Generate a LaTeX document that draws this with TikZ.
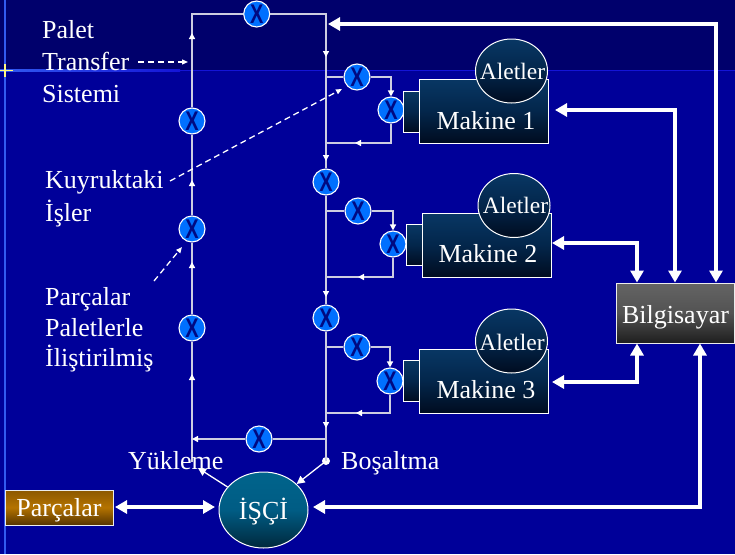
\documentclass[tikz,border=0pt]{standalone}
\usepackage{fontspec}
\usepackage{graphicx}
\setmainfont{Liberation Serif}
\newfontfamily\xvfont{Liberation Sans}
\usetikzlibrary{arrows.meta,shapes.geometric}
\definecolor{bgmain}{RGB}{0,0,153}
\definecolor{bgtop}{RGB}{0,0,108}
\definecolor{hline}{RGB}{20,20,215}
\definecolor{vline}{RGB}{50,90,240}
\definecolor{pipec}{RGB}{205,205,225}
\definecolor{valvec}{RGB}{0,112,255}
\definecolor{xcol}{RGB}{0,10,130}
\definecolor{machtop}{RGB}{8,55,100}
\definecolor{machmid}{RGB}{3,38,75}
\definecolor{machbot}{RGB}{0,12,32}
\definecolor{grtop}{RGB}{100,100,100}
\definecolor{grbot}{RGB}{30,30,30}
\definecolor{istop}{RGB}{0,100,140}
\definecolor{ismid}{RGB}{0,92,132}
\definecolor{isbot}{RGB}{0,40,60}
\definecolor{brtop}{RGB}{140,88,0}
\definecolor{brmid}{RGB}{180,115,0}
\definecolor{brbot}{RGB}{85,52,0}
\tikzset{
  tipS/.tip={Triangle[length=6pt,width=6pt,color=white]},
  tipM/.tip={Triangle[length=8pt,width=8pt]},
  tipD/.tip={Triangle[length=6pt,width=5pt]},
  tipB/.tip={Triangle[length=12pt,width=13pt]},
  pipe/.style={draw=pipec,line width=1.3pt},
  pipearr/.style={pipe,-{tipS}},
  valve/.style={circle,draw=white,line width=1.1pt,fill=valvec,minimum size=26pt,inner sep=0pt,text=xcol,font=\xvfont\bfseries\fontsize{27}{27}\selectfont},
  mach/.style={draw=white,line width=1pt,top color=machtop,bottom color=machbot,middle color=machmid,inner sep=0pt},
  bodybox/.style={mach,rectangle,minimum width=129pt,minimum height=64pt},
  spindle/.style={mach,rectangle,minimum width=16pt,minimum height=41pt},
  tools/.style={mach,ellipse,minimum width=72pt,minimum height=64pt},
  lbl/.style={text=white,font=\fontsize{26}{31}\selectfont,inner sep=0pt,anchor=base west},
  lblc/.style={lbl,anchor=base},
  allbl/.style={lbl,anchor=base,font=\fontsize{23.5}{28}\selectfont},
  big/.style={draw=white,line width=4pt,line join=miter,{tipB}-{tipB}},
  wthin/.style={draw=white,line width=1.3pt,-{tipM}},
  dashptr/.style={draw=white,line width=1.3pt,dash pattern=on 6pt off 4pt,-{tipD}},
}
\newcommand\vx{\scalebox{0.74}[1]{X}}
\begin{document}
\begin{tikzpicture}[x=1pt,y=-1pt]
\useasboundingbox (0,0) rectangle (735,554);
% background
\fill[bgmain] (0,0) rectangle (735,554);
\fill[bgtop] (0,0) rectangle (735,70);
\draw[hline,line width=1.5pt] (0,70.5) -- (735,70.5);
\shade[left color=vline,right color=hline] (0,69.5) rectangle (180,71.5);
\draw[vline,line width=1.6pt] (5,0) -- (5,554);
\draw[yellow!50!white,line width=1.4pt] (0,70.5) -- (13,70.5);
\draw[yellow!50!white,line width=1.2pt] (5,64) -- (5,77);

% valves
\node[valve] (vT) at (256.7,14) {\vx};
\node[valve] (vL1) at (192,121) {\vx};
\node[valve] (vL2) at (192,229) {\vx};
\node[valve] (vL3) at (192,328) {\vx};
\node[valve] (vB) at (259,439) {\vx};
\node[valve] (vR1) at (326,182) {\vx};
\node[valve] (vR2) at (326,318) {\vx};
\node[valve] (m1a) at (357,77) {\vx};
\node[valve] (m1b) at (391,110) {\vx};
\node[valve] (m2a) at (358,211) {\vx};
\node[valve] (m2b) at (393,244) {\vx};
\node[valve] (m3a) at (357,347) {\vx};
\node[valve] (m3b) at (390,381) {\vx};

% loop coordinates
\coordinate (cTL) at (192,14);
\coordinate (cTR) at (326,14);
\coordinate (cLB) at (192,462);
\coordinate (cBR) at (326,439);
\coordinate (cBL) at (192,439);
\coordinate (b1) at (326,77);
\coordinate (r1) at (326,143);
\coordinate (b2) at (326,211);
\coordinate (r2) at (326,277);
\coordinate (b3) at (326,347);
\coordinate (r3) at (326,413);
\fill[white] (326,461) circle (4pt);
\coordinate (dot) at (326,461);

% loop lines
\draw[pipe] (cLB) -- (vL3);
\draw[pipe] (vL3) -- (vL2);
\draw[pipe] (vL2) -- (vL1);
\draw[pipe] (vL1) -- (cTL) -- (vT);
\draw[pipe] (vT) -- (cTR) -- (vR1);
\draw[pipe] (vR1) -- (vR2);
\draw[pipe] (vR2) -- (dot);
\draw[pipe] (cBR) -- (vB);
\draw[pipearr] (vB) -- (cBL);
% branches
\draw[pipe] (b1) -- (m1a);
\draw[pipearr] (m1a) -- (m1a -| m1b) -- (m1b);
\draw[pipe] (m1b) -- (m1b |- r1) -- (r1);
\draw[pipe] (b2) -- (m2a);
\draw[pipearr] (m2a) -- (m2a -| m2b) -- (m2b);
\draw[pipe] (m2b) -- (m2b |- r2) -- (r2);
\draw[pipe] (b3) -- (m3a);
\draw[pipearr] (m3a) -- (m3a -| m3b) -- (m3b);
\draw[pipe] (m3b) -- (m3b |- r3) -- (r3);
% flow arrowheads
\draw[pipearr] (192,40) -- (192,33);
\draw[pipearr] (192,187) -- (192,180);
\draw[pipearr] (192,269) -- (192,262);
\draw[pipearr] (192,381) -- (192,374);
\draw[pipearr] (326,50) -- (326,57);
\draw[pipearr] (326,154) -- (326,161);
\draw[pipearr] (326,290) -- (326,297);
\draw[pipearr] (326,421) -- (326,428);
\draw[pipearr] (362,143) -- (355,143);
\draw[pipearr] (365,277) -- (358,277);
\draw[pipearr] (363,413) -- (356,413);

% machines
\node[spindle] (s1) at (411,111.5) {};
\node[bodybox] (mk1) at (483.5,111) {};
\node[tools] (al1) at (511.5,71) {};
\node[spindle] (s2) at (414,245) {};
\node[bodybox] (mk2) at (486.5,245) {};
\node[tools] (al2) at (514,205.5) {};
\node[spindle] (s3) at (411,381) {};
\node[bodybox] (mk3) at (483.5,381) {};
\node[tools] (al3) at (511.5,341) {};
\node[allbl] (al1t) at (512.5,79) {Aletler};
\node[allbl] (al2t) at (515.5,213) {Aletler};
\node[allbl] (al3t) at (512,350) {Aletler};
\node[lblc] (mk1t) at (486,129) {Makine 1};
\node[lblc] (mk2t) at (488,262) {Makine 2};
\node[lblc] (mk3t) at (486,398) {Makine 3};

% computer, worker, parts
\node[rectangle,draw=white!85!gray,line width=1pt,top color=grtop,bottom color=grbot,middle color=grtop!75!grbot,
      minimum width=118pt,minimum height=60pt,inner sep=0pt,text height=20pt,text depth=0pt,
      text=white,font=\fontsize{26}{31}\selectfont] (bilg) at (675.5,313) {Bilgisayar};
\node[ellipse,draw=white,line width=1pt,top color=istop,bottom color=isbot,middle color=ismid,
      minimum width=89pt,minimum height=76pt,inner sep=0pt,text height=18pt,text depth=0pt,
      text=white,font=\fontsize{26}{31}\selectfont] (isci) at (263.5,510) {İŞÇİ};
\node[rectangle,draw=white!85!gray,line width=1pt,top color=brtop,bottom color=brbot,middle color=brmid,
      minimum width=108pt,minimum height=35pt,inner sep=0pt,text height=17pt,text depth=0pt,
      text=white,font=\fontsize{26}{31}\selectfont] (parc) at (59,507.5) {Parçalar};

% thick connectors
\coordinate (cTop) at (328,24);
\coordinate (k1) at (716,24);
\draw[big] (cTop) -- (k1) -- (k1 |- bilg.north);
\coordinate (cM1) at (555,110);
\coordinate (k2) at (675,110);
\draw[big] (cM1) -- (k2) -- (k2 |- bilg.north);
\coordinate (cM2) at (552,243);
\coordinate (k3) at (637,243);
\draw[big] (cM2) -- (k3) -- (k3 |- bilg.north);
\coordinate (cM3) at (552,382);
\coordinate (k4) at (637,382);
\draw[big] (cM3) -- (k4) -- (k4 |- bilg.south);
\coordinate (cI) at (313,507);
\coordinate (k5) at (700,507);
\draw[big] (cI) -- (k5) -- (k5 |- bilg.south);
\coordinate (cP1) at (115,507);
\coordinate (cP2) at (215,507);
\draw[big] (cP1) -- (cP2);

% worker arrows
\coordinate (cY) at (198,468);
\draw[wthin] (isci) -- (cY);
\draw[wthin] (dot) -- (isci);

% labels
\node[lbl] (t1) at (42,38) {Palet};
\node[lbl] (t2) at (42,70) {Transfer};
\node[lbl] (t3) at (42,102) {Sistemi};
\node[lbl] (t4) at (45,188) {Kuyruktaki};
\node[lbl] (t5) at (45,221) {İşler};
\node[lbl] (t6) at (45,305) {Parçalar};
\node[lbl] (t7) at (45,336) {Paletlerle};
\node[lbl] (t8) at (45,366) {İliştirilmiş};
\node[lbl] (yk) at (128,469) {Yükleme};
\node[lbl] (bo) at (341,469) {Boşaltma};

% dashed pointers
\coordinate (d1a) at (138,62);
\coordinate (d1b) at (188,62);
\draw[dashptr] (d1a) -- (d1b);
\coordinate (d2a) at (170,181);
\coordinate (d2b) at (342,89);
\draw[dashptr] (d2a) -- (d2b);
\coordinate (d3a) at (154,281);
\coordinate (d3b) at (182,247);
\draw[dashptr] (d3a) -- (d3b);
\end{tikzpicture}
\end{document}
